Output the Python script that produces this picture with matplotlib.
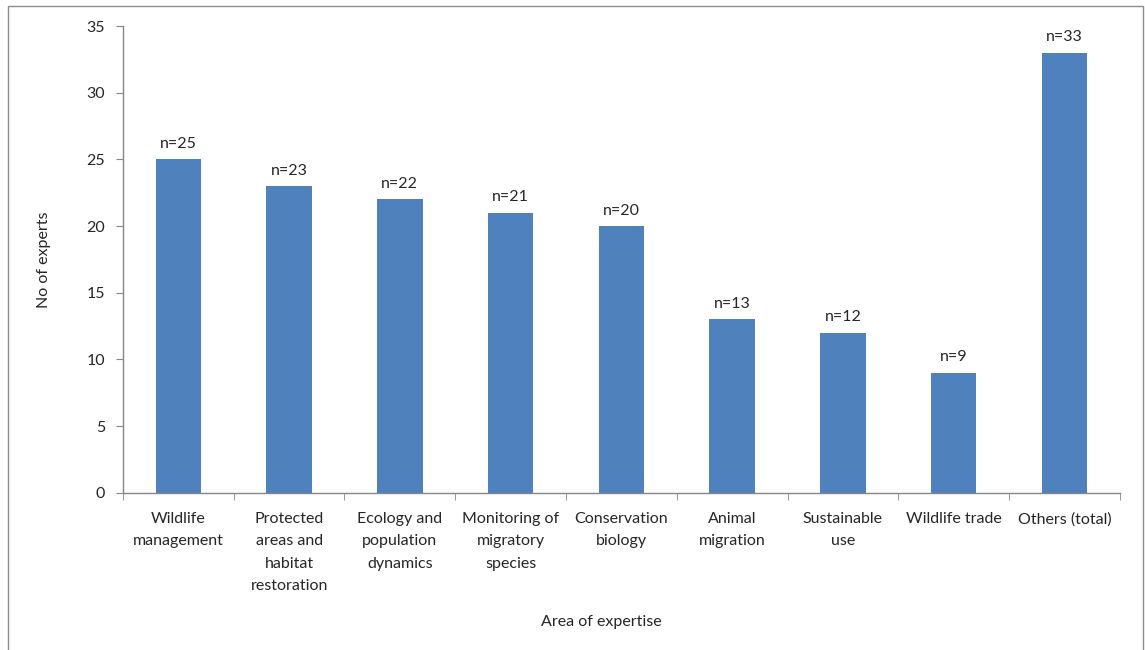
import matplotlib
matplotlib.use("Agg")
import matplotlib.pyplot as plt
from matplotlib.patches import Rectangle
import numpy as np

# Experts per area of expertise
areas = [
    "Wildlife\nmanagement",
    "Protected\nareas and\nhabitat\nrestoration",
    "Ecology and\npopulation\ndynamics",
    "Monitoring of\nmigratory\nspecies",
    "Conservation\nbiology",
    "Animal\nmigration",
    "Sustainable\nuse",
    "Wildlife trade",
    "Others (total)",
]
n_experts = [25, 23, 22, 21, 20, 13, 12, 9, 33]

bar_color = "#4F81BD"
axis_color = "#868686"
text_color = "#262626"

plt.rcParams["font.family"] = ["Lato", "DejaVu Sans"]

fig = plt.figure(figsize=(11.45, 6.5), dpi=100)
ax = fig.add_axes([0.1074, 0.242, 0.8706, 0.718])

x = np.arange(len(areas))
bars = ax.bar(x, n_experts, width=0.41, color=bar_color, zorder=2)

for rect, n in zip(bars, n_experts):
    ax.annotate(f"n={n}", (rect.get_x() + rect.get_width() / 2, rect.get_height()),
                xytext=(0, 6), textcoords="offset points",
                ha="center", va="bottom", fontsize=11.5, color=text_color)

ax.set_xlim(-0.5, len(areas) - 0.5)
ax.set_ylim(0, 35)
ax.set_yticks(np.arange(0, 36, 5))

# category labels centred, tick marks on the category boundaries
ax.set_xticks(x)
ax.set_xticklabels(areas, fontsize=11.5, color=text_color, linespacing=1.75, va="top")
ax.set_xticks(np.arange(-0.5, len(areas)), minor=True)
ax.tick_params(axis="x", which="major", length=0, pad=14)
ax.tick_params(axis="x", which="minor", length=5, color=axis_color, direction="out")
ax.tick_params(axis="y", length=5, color=axis_color, labelsize=11.5,
               labelcolor=text_color, pad=8)

for side in ("top", "right"):
    ax.spines[side].set_visible(False)
for side in ("left", "bottom"):
    ax.spines[side].set_color(axis_color)
    ax.spines[side].set_linewidth(1)

ax.set_ylabel("No of experts", fontsize=11.5, color=text_color)
ax.yaxis.set_label_coords(-0.072, 0.5)
ax.set_xlabel("Area of expertise", fontsize=11.5, color=text_color)
ax.xaxis.set_label_coords(0.48, -0.262)

# chart area frame
fig.patches.append(Rectangle((8 / 1145, -0.02), 1135 / 1145, 1.02 - 6 / 650,
                             transform=fig.transFigure, fill=False,
                             edgecolor="#8c8c8c", linewidth=1))

fig.savefig("out.png", dpi=100)
